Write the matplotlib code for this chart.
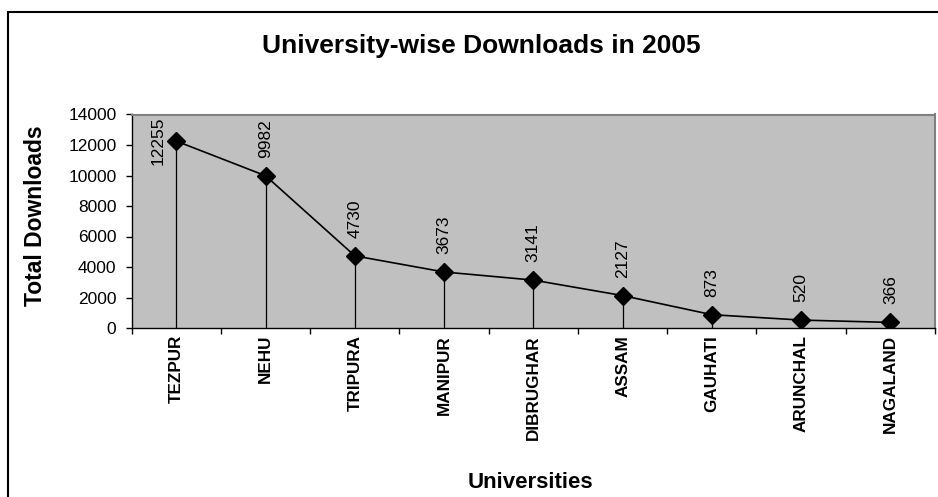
# university-wise downloads in 2005, excel style line chart with drop lines

import matplotlib.pyplot as plt
from matplotlib.patches import Rectangle

universities = ['TEZPUR', 'NEHU', 'TRIPURA', 'MANIPUR', 'DIBRUGHAR',
                'ASSAM', 'GAUHATI', 'ARUNCHAL', 'NAGALAND']
downloads = [12255, 9982, 4730, 3673, 3141, 2127, 873, 520, 366]
y_ticks = [0, 2000, 4000, 6000, 8000, 10000, 12000, 14000]

plt.rcParams['font.family'] = ['Liberation Sans', 'DejaVu Sans']

fig = plt.figure(figsize=(9.38, 4.97), dpi=100)
W, H = 938, 497

# outer chart border (open on the right and bottom, like the crop)
fig.patches.append(Rectangle((7.5 / W, -0.1), 1.2, 1 - 12 / H + 0.1,
                             transform=fig.transFigure, fill=False,
                             edgecolor='black', linewidth=1.5))

ax = fig.add_axes((131.7 / W, 1 - 328 / H, 803.3 / W, (328 - 114.5) / H))
ax.set_facecolor('#c0c0c0')

x = list(range(len(universities)))
ax.vlines(x, 0, downloads, color='black', linewidth=0.9)
ax.plot(x, downloads, color='black', linewidth=1.2, marker='D',
        markersize=8.8, markerfacecolor='black', markeredgecolor='black')

for i, v in enumerate(downloads):
    if v > 11000:
        # no room above, excel shifts it left of the point
        ax.annotate(str(v), (i, v), xytext=(-13, 0), textcoords='offset points',
                    rotation=90, ha='center', va='center', fontsize=12.5)
    else:
        ax.annotate(str(v), (i, v), xytext=(0, 13), textcoords='offset points',
                    rotation=90, ha='center', va='bottom', fontsize=12.5)

ax.set_xlim(-0.5, len(universities) - 0.5)
ax.set_ylim(0, 14000)

ax.set_xticks(x)
ax.set_xticklabels(universities, rotation=90, fontsize=12.3, fontweight='bold', va='top')
ax.set_xticks([i - 0.5 for i in range(len(universities) + 1)], minor=True)
ax.tick_params(axis='x', which='major', length=0, pad=5)
ax.tick_params(axis='x', which='minor', length=4, width=1, direction='out')

ax.set_yticks(y_ticks)
ax.set_yticklabels([str(t) for t in y_ticks], fontsize=12.5)
ax.tick_params(axis='y', length=4, width=1, direction='out', pad=7)

for side in ('top', 'right'):
    ax.spines[side].set_color('#808080')
    ax.spines[side].set_linewidth(1.5)
for side in ('left', 'bottom'):
    ax.spines[side].set_color('black')
    ax.spines[side].set_linewidth(1)

fig.text(481 / W, 1 - 46 / H, 'University-wise Downloads in 2005',
         ha='center', va='center', fontsize=19, fontweight='bold')
fig.text(36 / W, 1 - 216 / H, 'Total Downloads', rotation=90,
         ha='center', va='center', fontsize=16.5, fontweight='bold')
fig.text(530 / W, 1 - 482 / H, 'Universities', ha='center', va='center',
         fontsize=16, fontweight='bold')

plt.savefig('out.png', dpi=100)
plt.close()
